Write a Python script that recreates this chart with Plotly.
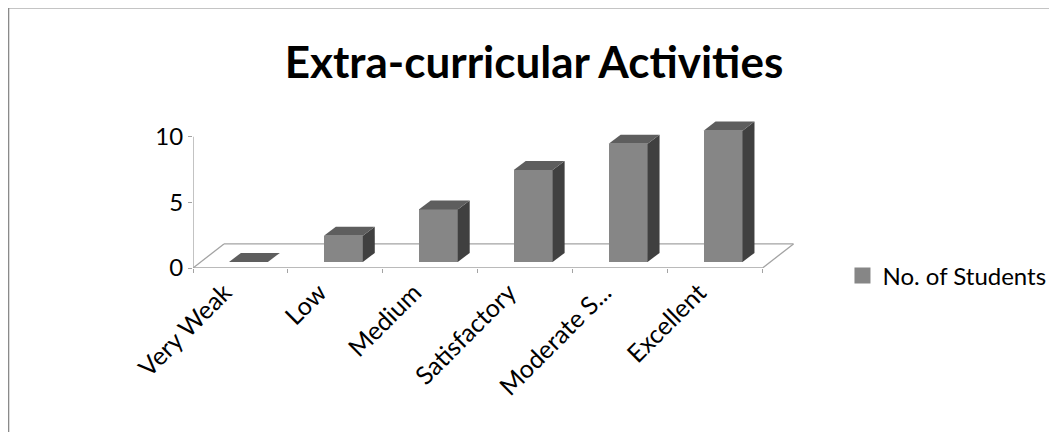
import plotly.graph_objects as go

# ---- data ----
categories = ["Very Weak", "Low", "Medium", "Satisfactory", "Moderate S...", "Excellent"]
students = [0, 2, 4, 7, 9, 10]
series_name = "No. of Students"
y_ticks = [0, 5, 10]

# ---- pseudo-3D geometry (in axis units) ----
FLOOR_DX, FLOOR_DY = 0.326, 1.83   # depth of floor
BAR_OX, BAR_BASE = 0.084, 0.46     # bar front offset inside the floor
BAR_W = 0.41                       # bar width
SIDE_DX, SIDE_DY = 0.126, 0.69     # bar depth
LABEL_SHIFT = 0.17                 # rotated labels sit left of the category centre

FRONT = "#868686"
SIDE = "#404040"
TOP = "#5e5e5e"
LINE = "#a3a3a3"
FONT = "Lato"

# page has an 8px body margin: figure pixel = screen pixel - 8
OFF = 8
W, H = 1057 - OFF, 432 - OFF
L = 193 - OFF
Y0 = 268 - OFF
PW = 617.5
UNIT = 13.1
YMAX = 11.5
PH = YMAX * UNIT
T = Y0 - PH

n = len(categories)
xs = [i + BAR_OX for i in range(n)]

fig = go.Figure()

# front faces of the bars
fig.add_trace(go.Bar(
    x=xs, y=students, base=BAR_BASE, width=BAR_W,
    marker=dict(color=FRONT, line=dict(width=0)),
    name=series_name, showlegend=False, hoverinfo="skip",
))

# side and top faces, derived from the values
for x, v in zip(xs, students):
    xl, xr = x - BAR_W / 2, x + BAR_W / 2
    yb, yt = BAR_BASE, BAR_BASE + v
    if v > 0:
        fig.add_trace(go.Scatter(
            x=[xr, xr, xr + SIDE_DX, xr + SIDE_DX, xr],
            y=[yb, yt, yt + SIDE_DY, yb + SIDE_DY, yb],
            fill="toself", fillcolor=SIDE, mode="lines",
            line=dict(width=0, color=SIDE), showlegend=False, hoverinfo="skip",
        ))
    fig.add_trace(go.Scatter(
        x=[xl, xr, xr + SIDE_DX, xl + SIDE_DX, xl],
        y=[yt, yt, yt + SIDE_DY, yt + SIDE_DY, yt],
        fill="toself", fillcolor=TOP, mode="lines",
        line=dict(width=0, color=TOP), showlegend=False, hoverinfo="skip",
    ))

# legend entry (larger square swatch, as in the original)
fig.add_trace(go.Scatter(
    x=[None], y=[None], mode="markers", name=series_name,
    marker=dict(symbol="square", size=16, color=FRONT, line=dict(width=0)),
    showlegend=True, hoverinfo="skip",
))

# floor and y-axis line (decoration, below the bars)
x0, x1 = -0.5, n - 0.5
shapes = [
    dict(type="line", x0=x0, y0=0, x1=x1, y1=0),
    dict(type="line", x0=x0, y0=0, x1=x0 + FLOOR_DX, y1=FLOOR_DY),
    dict(type="line", x0=x1, y0=0, x1=x1 + FLOOR_DX, y1=FLOOR_DY),
    dict(type="line", x0=x0 + FLOOR_DX, y0=FLOOR_DY, x1=x1 + FLOOR_DX, y1=FLOOR_DY),
    dict(type="line", x0=x0, y0=0, x1=x0, y1=max(y_ticks)),
]
for s in shapes:
    s.update(layer="below", xref="x", yref="y", line=dict(color=LINE, width=1.3))

# chart border (top/left visible, right/bottom outside the window)
shapes.append(dict(
    type="rect", xref="paper", yref="paper",
    x0=(0.5 - L) / PW, x1=(W + 50 - L) / PW,
    y0=(Y0 - (H + 50)) / PH, y1=(Y0 - 0.5) / PH,
    line=dict(color="#8a8a8a", width=1.3), fillcolor="rgba(0,0,0,0)",
))

fig.update_layout(
    width=W, height=H,
    margin=dict(l=L, r=W - L - PW, t=T, b=H - Y0, pad=0, autoexpand=False),
    paper_bgcolor="white", plot_bgcolor="white",
    shapes=shapes,
    title=dict(
        text="<b>Extra-curricular Activities</b>",
        x=(534 - OFF) / W, xanchor="center", y=1 - (62.5 - OFF) / H, yanchor="middle",
        xref="container", yref="container",
        font=dict(family=FONT, size=44, color="black"),
    ),
    xaxis=dict(
        range=[-0.5, 6.0], showgrid=False, zeroline=False, showline=False,
        tickmode="array", tickvals=[i - LABEL_SHIFT for i in range(n)], ticktext=categories,
        tickangle=-45, ticks="", ticklabelstandoff=4,
        tickfont=dict(family=FONT, size=25, color="black"),
        minor=dict(tickmode="array", tickvals=[i - 0.5 for i in range(n + 1)],
                   ticks="outside", ticklen=4, tickcolor=LINE, tickwidth=1.3),
    ),
    yaxis=dict(
        range=[0, YMAX], showgrid=False, zeroline=False, showline=False,
        tickmode="array", tickvals=y_ticks, ticks="outside", ticklen=4,
        tickcolor=LINE, tickwidth=1.3,
        tickfont=dict(family=FONT, size=24, color="black"),
    ),
    legend=dict(
        x=(843 - OFF - L) / PW, y=(Y0 - (276 - OFF)) / PH, xanchor="left", yanchor="middle",
        font=dict(family=FONT, size=24, color="black"),
        bgcolor="rgba(0,0,0,0)",
    ),
    bargap=0,
)

fig.write_html("out.html")
